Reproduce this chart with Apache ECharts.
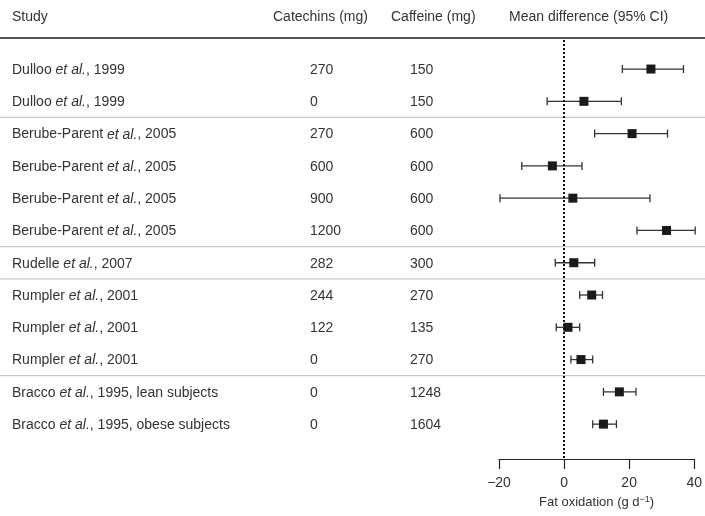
<!DOCTYPE html>
<html>
<head>
<meta charset="utf-8">
<script src="https://cdn.jsdelivr.net/npm/echarts@6/dist/echarts.min.js"></script>
<style>
  html, body { margin: 0; padding: 0; background: #fff; }
  #chart { width: 705px; height: 516px; }
</style>
</head>
<body>
<div id="chart"></div>
<script>
var headers = ['Study', 'Catechins (mg)', 'Caffeine (mg)', 'Mean difference (95% CI)']
var authors = ['Dulloo', 'Dulloo', 'Berube-Parent', 'Berube-Parent', 'Berube-Parent', 'Berube-Parent',
  'Rudelle', 'Rumpler', 'Rumpler', 'Rumpler', 'Bracco', 'Bracco']
var tails = [', 1999', ', 1999', ', 2005', ', 2005', ', 2005', ', 2005',
  ', 2007', ', 2001', ', 2001', ', 2001', ', 1995, lean subjects', ', 1995, obese subjects']
var catechins = [270, 0, 270, 600, 900, 1200, 282, 244, 122, 0, 0, 0]
var caffeine = [150, 150, 600, 600, 600, 600, 300, 270, 135, 270, 1248, 1604]
var estimate = [26.7, 6.1, 20.9, -3.6, 2.7, 31.5, 3.0, 8.5, 1.2, 5.2, 17.0, 12.1]
var lower = [17.9, -5.2, 9.4, -13.0, -19.7, 22.4, -2.7, 4.8, -2.4, 2.1, 12.1, 8.8]
var upper = [36.7, 17.6, 31.8, 5.5, 26.4, 40.3, 9.4, 11.8, 4.8, 8.8, 22.1, 16.1]
// rows after which a grey divider is drawn
var groupEnds = [1, 5, 6, 9]

var font = '"Liberation Sans", Arial, sans-serif'
var textColor = '#333'

var forestData = []
var tableData = []
for (var i = 0; i < estimate.length; i++) {
  forestData.push([i, estimate[i], lower[i], upper[i]])
  tableData.push([0, i])
}

function renderForest(params, api) {
  var row = api.value(0)
  var mid = api.coord([api.value(1), row])
  var lo = api.coord([api.value(2), row])
  var hi = api.coord([api.value(3), row])
  var cap = 4
  var sq = 9
  var line = { stroke: '#333', lineWidth: 1.3 }
  return {
    type: 'group',
    children: [
      { type: 'line', shape: { x1: lo[0], y1: lo[1], x2: hi[0], y2: hi[1] }, style: line },
      { type: 'line', shape: { x1: lo[0], y1: lo[1] - cap, x2: lo[0], y2: lo[1] + cap }, style: line },
      { type: 'line', shape: { x1: hi[0], y1: hi[1] - cap, x2: hi[0], y2: hi[1] + cap }, style: line },
      { type: 'rect', shape: { x: mid[0] - sq / 2, y: mid[1] - sq / 2, width: sq, height: sq }, style: { fill: '#1a1a1a' } },
    ],
  }
}

function renderTable(params, api) {
  var row = api.value(1)
  var y = api.coord([0, row])[1]
  var band = api.size([0, 1])[1]
  var base = { fill: textColor, fontSize: 14, fontFamily: font, verticalAlign: 'middle', align: 'left' }
  var children = [
    {
      type: 'text', x: 12, y: y + 1,
      style: Object.assign({}, base, {
        text: authors[row] + ' {i|et al.}' + tails[row],
        rich: { i: { fontStyle: 'italic', fontSize: 14, fontFamily: font, fill: textColor } },
      }),
    },
    { type: 'text', x: 310, y: y + 1, style: Object.assign({}, base, { text: String(catechins[row]) }) },
    { type: 'text', x: 410, y: y + 1, style: Object.assign({}, base, { text: String(caffeine[row]) }) },
  ]
  if (groupEnds.indexOf(row) >= 0) {
    children.push({
      type: 'line',
      shape: { x1: 0, y1: y + band / 2, x2: api.getWidth(), y2: y + band / 2 },
      style: { stroke: '#c8c8c8', lineWidth: 1.2 },
    })
  }
  return { type: 'group', children: children }
}

var headerX = [12, 273, 391, 509]
var graphics = headers.map(function (h, k) {
  return {
    type: 'text', left: headerX[k], top: 10,
    style: { text: h, fill: textColor, fontSize: 14, fontFamily: font },
  }
})
graphics.push({
  type: 'line', shape: { x1: 0, y1: 38, x2: 705, y2: 38 },
  style: { stroke: '#555', lineWidth: 2 },
})

var chart = echarts.init(document.getElementById('chart'))
chart.setOption({
  animation: false,
  textStyle: { fontFamily: font },
  grid: { left: 499, right: 6, top: 40, bottom: 57 },
  xAxis: {
    type: 'value',
    min: -20,
    max: 40,
    interval: 20,
    splitLine: { show: false },
    axisLine: { onZero: false, lineStyle: { color: '#222', width: 1.2 } },
    axisTick: { length: 10, lineStyle: { color: '#222', width: 1.2 } },
    axisLabel: {
      color: textColor,
      fontSize: 14,
      margin: 17,
      formatter: function (v) { return String(v).replace('-', '\u2212') },
    },
    name: 'Fat oxidation (g d{sup|\u22121})',
    nameLocation: 'middle',
    nameGap: 31,
    nameTextStyle: {
      color: textColor,
      fontSize: 13,
      rich: { sup: { fontSize: 9, verticalAlign: 'top', padding: [0, 0, 6, 0], color: textColor } },
    },
  },
  yAxis: {
    type: 'value',
    inverse: true,
    min: -0.9,
    max: 12.08,
    show: false,
  },
  graphic: graphics,
  series: [
    {
      type: 'custom',
      renderItem: renderTable,
      data: tableData,
      clip: false,
      silent: true,
      encode: { x: 0, y: 1 },
    },
    {
      type: 'custom',
      renderItem: renderForest,
      data: forestData,
      clip: false,
      encode: { x: [1, 2, 3], y: 0 },
      markLine: {
        silent: true,
        symbol: 'none',
        label: { show: false },
        lineStyle: { color: '#111', type: 'dotted', width: 2 },
        data: [{ xAxis: 0 }],
      },
    },
  ],
})
</script>
</body>
</html>
